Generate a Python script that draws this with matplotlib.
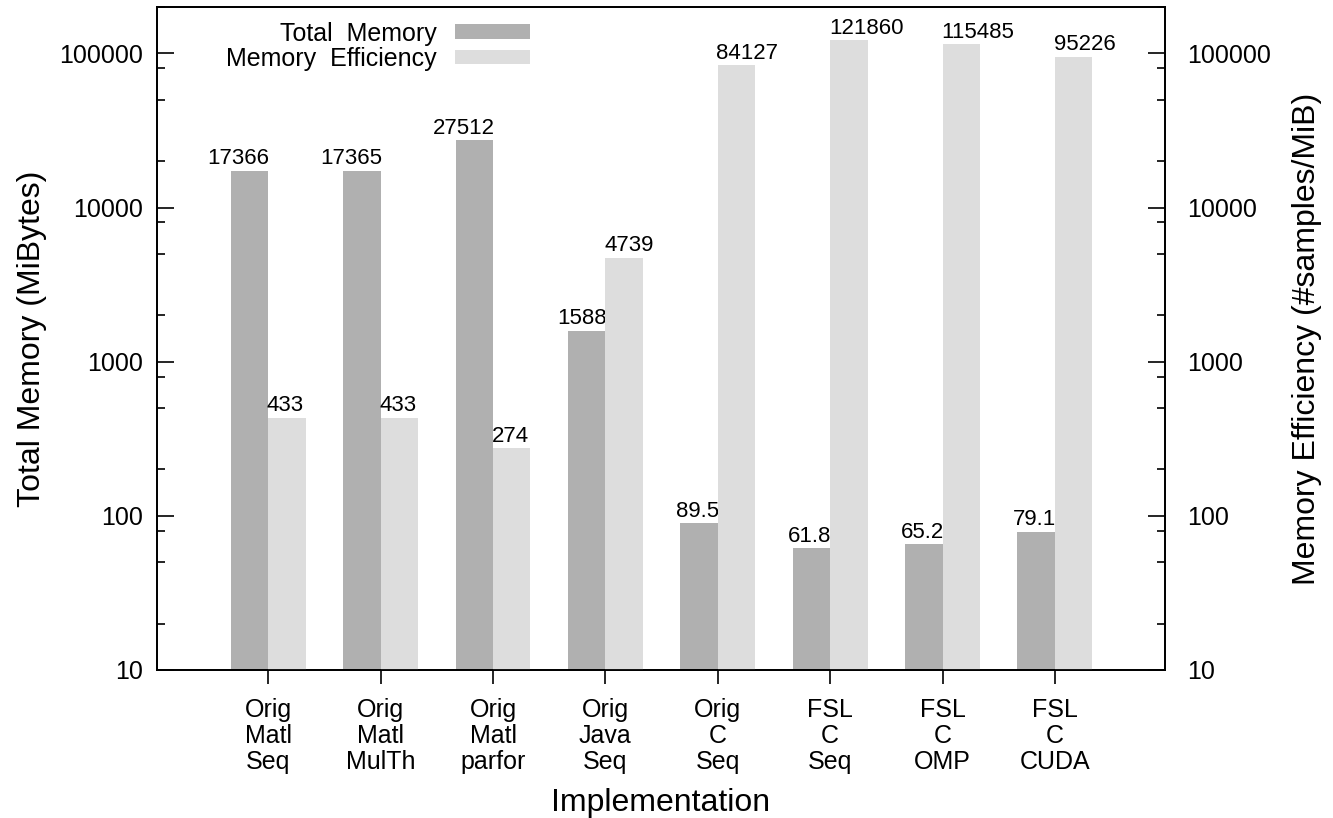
import numpy as np
import matplotlib
matplotlib.use("Agg")
import matplotlib.pyplot as plt
from matplotlib.patches import Patch
from matplotlib.ticker import FixedLocator, NullFormatter

plt.rcParams['font.family'] = ['Liberation Sans', 'DejaVu Sans']

# Data
implementations = ["Orig\nMatl\nSeq", "Orig\nMatl\nMulTh", "Orig\nMatl\nparfor",
                   "Orig\nJava\nSeq", "Orig\nC\nSeq", "FSL\nC\nSeq",
                   "FSL\nC\nOMP", "FSL\nC\nCUDA"]
total_memory = [17366, 17365, 27512, 1588, 89.5, 61.8, 65.2, 79.1]        # MiBytes
memory_efficiency = [433, 433, 274, 4739, 84127, 121860, 115485, 95226]  # samples/MiB

dark = '#b0b0b0'
light = '#dddddd'
bar_w = 1.0 / 3

fig = plt.figure(figsize=(13.33, 8.18), dpi=100)
ax = fig.add_axes([0.1178, 0.181, 0.7562, 0.8104])
ax2 = ax.twinx()

x = np.arange(len(implementations))
ax.bar(x - bar_w / 2, total_memory, width=bar_w, color=dark, zorder=2)
ax2.bar(x + bar_w / 2, memory_efficiency, width=bar_w, color=light, zorder=2)

# value labels: dark ones end at the group centre, light ones start there
for xi, v in zip(x, total_memory):
    ax.annotate(f"{v:g}", (xi, v), xytext=(1, 4.5), textcoords='offset points',
                ha='right', va='baseline', fontsize=16)
for xi, v in zip(x, memory_efficiency):
    ax2.annotate(f"{v:g}", (xi, v), xytext=(-1, 4.5), textcoords='offset points',
                 ha='left', va='baseline', fontsize=16)

for a in (ax, ax2):
    a.set_yscale('log')
    a.set_ylim(10, 200000)
    a.set_xlim(-0.99, 7.98)
    a.yaxis.set_major_locator(FixedLocator([10, 100, 1000, 10000, 100000]))
    minors = [m * 10 ** e for e in range(1, 6) for m in (2, 5, 8)]
    a.yaxis.set_minor_locator(FixedLocator(minors))
    a.yaxis.set_minor_formatter(NullFormatter())
    a.tick_params(axis='y', which='major', direction='in', length=12, width=1.2,
                  labelsize=18)
    a.tick_params(axis='y', which='minor', direction='in', length=6, width=1.2)
    for s in a.spines.values():
        s.set_linewidth(1.3)

yticks = [10, 100, 1000, 10000, 100000]
ax.set_yticklabels([str(t) for t in yticks])
ax2.set_yticklabels([str(t) for t in yticks])
ax.tick_params(axis='y', pad=10)
ax2.tick_params(axis='y', pad=16)

ax.set_xticks(x)
ax.set_xticklabels(implementations, fontsize=18, linespacing=1.12)
ax.tick_params(axis='x', direction='out', length=10, width=1.2, pad=10)

ax.set_xlabel("Implementation", fontsize=23, labelpad=10)
ax.set_ylabel("Total Memory (MiBytes)", fontsize=23, labelpad=9)
ax2.set_ylabel("Memory Efficiency (#samples/MiB)", fontsize=23, labelpad=15)

handles = [Patch(facecolor=dark, edgecolor='none', label='Total  Memory'),
           Patch(facecolor=light, edgecolor='none', label='Memory  Efficiency')]
ax.legend(handles=handles, loc='upper right', bbox_to_anchor=(0.382, 0.997),
          frameon=False, markerfirst=False, fontsize=18, handlelength=3.0,
          handleheight=0.52, handletextpad=0.7, labelspacing=0.05, borderpad=0)

fig.savefig("out.png", dpi=100)
